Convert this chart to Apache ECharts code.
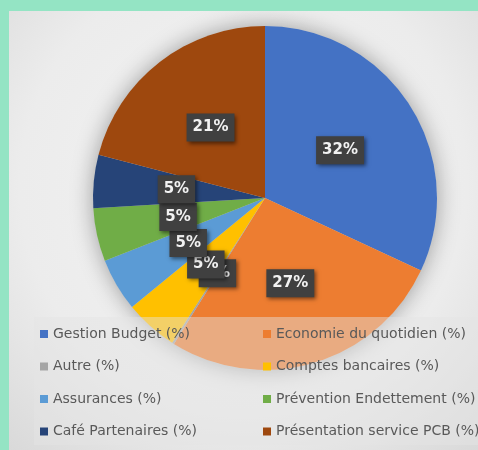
<!DOCTYPE html>
<html><head><meta charset="utf-8">
<script src="https://cdn.jsdelivr.net/npm/echarts@6/dist/echarts.min.js"></script>
<style>
html,body{margin:0;padding:0;width:478px;height:450px;background:#94e4c4;overflow:hidden;}
#c{position:absolute;left:9px;top:11px;width:469px;height:439px;}
</style></head>
<body><div id="c"></div>
<script>
const categories = ['Gestion Budget (%)','Economie du quotidien (%)','Autre (%)','Comptes bancaires (%)','Assurances (%)','Prévention Endettement (%)','Café Partenaires (%)','Présentation service PCB (%)'];
const values = [32, 27, 0.2, 5, 5, 5, 5, 21];
const colors = ['#4472C4','#ED7D31','#A5A5A5','#FFC000','#5B9BD5','#70AD47','#264478','#9E480E'];
const legendLeft = categories.filter((_, i) => i % 2 === 0);
const legendRight = categories.filter((_, i) => i % 2 === 1);

const legendCommon = {
  orient:'vertical', icon:'rect', itemWidth:8, itemHeight:8, itemGap:18.5,
  padding:0, selectedMode:false, z:5,
  textStyle:{fontFamily:'DejaVu Sans',fontSize:14,color:'#595959'}
};

const chart = echarts.init(document.getElementById('c'));
chart.setOption({
  animation:false,
  backgroundColor:{type:'radial',x:0.5,y:0.4,r:0.85,colorStops:[{offset:0,color:'#f3f3f3'},{offset:0.6,color:'#ececec'},{offset:1,color:'#d6d6d6'}]},
  color: colors,
  graphic:[{type:'rect', left:25, top:306, z:3, silent:true,
    shape:{width:460,height:128}, style:{fill:'rgba(228,228,228,0.45)'}}],
  legend:[
    Object.assign({data:legendLeft, left:31, top:316}, legendCommon),
    Object.assign({data:legendRight, left:254, top:316}, legendCommon)
  ],
  series:[
    {
      type:'pie', silent:true, radius:172, center:[256,187], z:1,
      data:[{value:1,name:'_bg'}],
      label:{show:false}, labelLine:{show:false},
      itemStyle:{color:'#d0d0d0',shadowBlur:22,shadowColor:'rgba(0,0,0,0.35)'}
    },
    {
      type:'pie', radius:172, center:[256,187], startAngle:90, clockwise:true, z:2,
      data: categories.map((n,i)=>({name:n,value:values[i]})),
      minShowLabelAngle:0,
      avoidLabelOverlap:false,
      labelLayout:{hideOverlap:false},
      label:{
        show:true, position:'inside',
        formatter:p=>Math.round(p.percent)+'%',
        color:'#f2f2f2', fontFamily:'DejaVu Sans', fontWeight:'bold', fontSize:15,
        backgroundColor:'#404040', padding:[7,6,6,6],
        shadowBlur:4, shadowColor:'rgba(0,0,0,0.5)', shadowOffsetX:2, shadowOffsetY:2
      },
      labelLine:{show:false},
      itemStyle:{borderWidth:0}
    }
  ]
});
</script></body></html>
